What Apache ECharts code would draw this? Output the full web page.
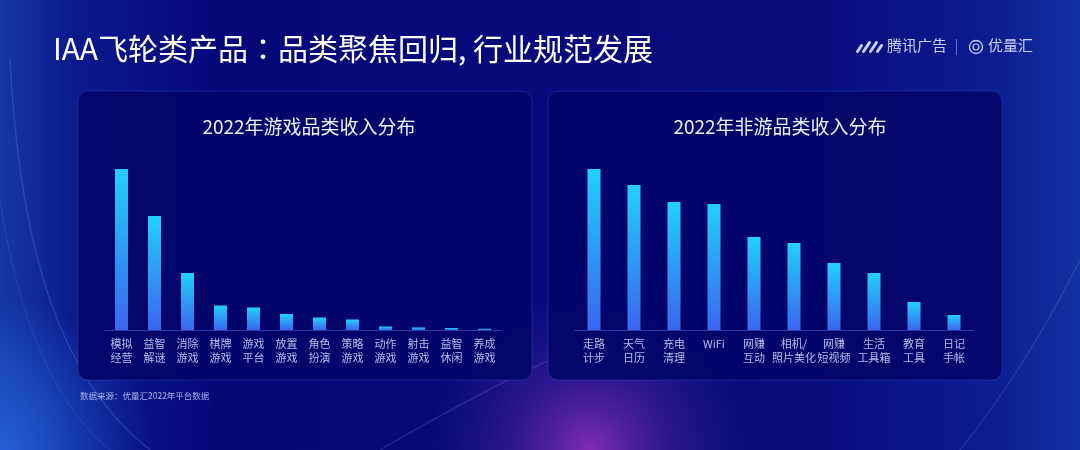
<!DOCTYPE html>
<html>
<head>
<meta charset="utf-8">
<script src="https://cdn.jsdelivr.net/npm/echarts@6/dist/echarts.min.js"></script>
<style>
html, body { margin: 0; padding: 0; background: #07086e; }
#main { width: 1080px; height: 450px; }
</style>
</head>
<body>
<div id="main"></div>
<script>
// 游戏品类 (柱高按图估读)
var gameCats = ['模拟\n经营', '益智\n解谜', '消除\n游戏', '棋牌\n游戏', '游戏\n平台', '放置\n游戏', '角色\n扮演', '策略\n游戏', '动作\n游戏', '射击\n游戏', '益智\n休闲', '养成\n游戏'];
var gameVals = [161, 114, 57, 24.5, 22.5, 16, 12.5, 10.5, 3.5, 2.5, 2, 1.2];

// 非游品类
var appCats = ['走路\n计步', '天气\n日历', '充电\n清理', 'WiFi', '网赚\n互动', '相机/\n照片美化', '网赚\n短视频', '生活\n工具箱', '教育\n工具', '日记\n手帐'];
var appVals = [161, 145, 128, 126, 93, 87, 67, 57, 28, 15];

var mainTitle = 'IAA飞轮类产品：品类聚焦回归, 行业规范发展';
var leftTitle = '2022年游戏品类收入分布';
var rightTitle = '2022年非游品类收入分布';
var sourceText = '数据来源：优量汇2022年平台数据';

var fontCN = '"Noto Sans CJK SC", "Noto Sans", sans-serif';
// 标题里的全角冒号要居中，用TC字形
var fontTitle = '"Noto Sans CJK TC", "Noto Sans CJK SC", sans-serif';

var barColor = new echarts.graphic.LinearGradient(0, 0, 0, 1, [
    { offset: 0, color: '#22d0fb' },
    { offset: 1, color: '#3a66ee' }
]);

function axisX(idx, cats) {
    return {
        type: 'category',
        gridIndex: idx,
        data: cats,
        axisTick: { show: false },
        axisLine: { lineStyle: { color: 'rgba(70,95,200,0.6)', width: 1 } },
        axisLabel: {
            color: '#b4bdec',
            fontSize: 11,
            lineHeight: 14,
            margin: 7,
            interval: 0,
            fontFamily: fontCN
        }
    };
}

function axisY(idx) {
    return {
        type: 'value',
        gridIndex: idx,
        min: 0,
        max: 161,
        show: false,
        splitLine: { show: false }
    };
}

var chart = echarts.init(document.getElementById('main'));

chart.setOption({
    backgroundColor: '#07086e',
    animation: false,
    title: [
        { text: mainTitle, left: 48, top: 29, textStyle: { color: '#ffffff', fontSize: 30, fontWeight: 'normal', fontFamily: fontTitle } },
        { text: leftTitle, left: 304, top: 112, textAlign: 'center', textStyle: { color: '#eef1ff', fontSize: 19, fontWeight: 'normal', fontFamily: fontCN } },
        { text: rightTitle, left: 775, top: 112, textAlign: 'center', textStyle: { color: '#eef1ff', fontSize: 19, fontWeight: 'normal', fontFamily: fontCN } }
    ],
    graphic: [
        // 背景
        { type: 'rect', z: -10, silent: true, shape: { x: 0, y: 0, width: 1080, height: 450 },
          style: { fill: new echarts.graphic.LinearGradient(0, 0, 1, 0, [
              { offset: 0, color: '#1637a6' },
              { offset: 0.07, color: '#0a1a8c' },
              { offset: 0.2, color: '#06087a' },
              { offset: 0.75, color: '#080c7c' },
              { offset: 0.92, color: '#0c1d92' },
              { offset: 1, color: '#1231a2' }
          ]) } },
        { type: 'rect', z: -9, silent: true, shape: { x: 150, y: 180, width: 800, height: 270 },
          style: { fill: new echarts.graphic.RadialGradient(0.55, 1, 0.6, [
              { offset: 0, color: 'rgba(150,50,190,0.85)' },
              { offset: 0.45, color: 'rgba(100,40,175,0.45)' },
              { offset: 1, color: 'rgba(60,30,150,0)' }
          ]) } },
        { type: 'rect', z: -9, silent: true, shape: { x: 0, y: 280, width: 300, height: 170 },
          style: { fill: new echarts.graphic.RadialGradient(0, 1, 0.9, [
              { offset: 0, color: 'rgba(40,110,230,0.75)' },
              { offset: 1, color: 'rgba(40,110,230,0)' }
          ]) } },
        // 光线
        { type: 'bezierCurve', z: -8, silent: true, shape: { x1: 10, y1: 60, x2: 150, y2: 450, cpx1: 20, cpy1: 250, cpx2: 60, cpy2: 380 },
          style: { stroke: 'rgba(140,180,255,0.18)', lineWidth: 1.5, fill: null } },
        { type: 'bezierCurve', z: -8, silent: true, shape: { x1: 0, y1: 200, x2: 110, y2: 450, cpx1: 20, cpy1: 330, cpx2: 60, cpy2: 410 },
          style: { stroke: 'rgba(140,180,255,0.14)', lineWidth: 1, fill: null } },
        { type: 'bezierCurve', z: -8, silent: true, shape: { x1: 380, y1: 450, x2: 720, y2: 300, cpx1: 500, cpy1: 380, cpx2: 620, cpy2: 320 },
          style: { stroke: 'rgba(200,170,255,0.15)', lineWidth: 1.5, fill: null } },
        { type: 'bezierCurve', z: -8, silent: true, shape: { x1: 1080, y1: 260, x2: 960, y2: 450, cpx1: 1040, cpy1: 340, cpx2: 1000, cpy2: 400 },
          style: { stroke: 'rgba(140,180,255,0.16)', lineWidth: 1.5, fill: null } },
        // 面板
        { type: 'rect', z: -5, silent: true, shape: { x: 78, y: 91, width: 454, height: 289, r: 10 },
          style: { fill: 'rgba(4,5,104,0.93)', stroke: 'rgba(70,100,210,0.3)', lineWidth: 1 } },
        { type: 'rect', z: -5, silent: true, shape: { x: 548, y: 91, width: 454, height: 289, r: 10 },
          style: { fill: 'rgba(4,5,104,0.93)', stroke: 'rgba(70,100,210,0.3)', lineWidth: 1 } },
        // 数据来源
        { type: 'text', z: 5, left: 80, top: 392, style: { text: sourceText, fill: '#a9b3e8', fontSize: 8.5, fontFamily: fontCN } },
        // logo
        { type: 'group', left: 855, top: 40, z: 5, children: [
            { type: 'line', shape: { x1: 0, y1: 12, x2: 4, y2: 6 }, style: { stroke: '#c9cfee', lineWidth: 3, lineCap: 'round' } },
            { type: 'line', shape: { x1: 6, y1: 12, x2: 12, y2: 3 }, style: { stroke: '#c9cfee', lineWidth: 3, lineCap: 'round' } },
            { type: 'line', shape: { x1: 13, y1: 12, x2: 19, y2: 3 }, style: { stroke: '#c9cfee', lineWidth: 3, lineCap: 'round' } },
            { type: 'line', shape: { x1: 20, y1: 12, x2: 24, y2: 6 }, style: { stroke: '#c9cfee', lineWidth: 3, lineCap: 'round' } }
        ] },
        { type: 'text', z: 5, left: 887, top: 38, style: { text: '腾讯广告', fill: '#c9cfee', fontSize: 15, fontFamily: fontCN } },
        { type: 'rect', z: 5, shape: { x: 956, y: 39, width: 1, height: 16 }, style: { fill: 'rgba(200,207,238,0.5)' } },
        { type: 'circle', z: 5, shape: { cx: 976, cy: 47, r: 6.5 }, style: { fill: null, stroke: '#c9cfee', lineWidth: 1.3 } },
        { type: 'circle', z: 5, shape: { cx: 976, cy: 47, r: 3 }, style: { fill: null, stroke: '#c9cfee', lineWidth: 1.2 } },
        { type: 'text', z: 5, left: 988, top: 38, style: { text: '优量汇', fill: '#c9cfee', fontSize: 15, fontFamily: fontCN } }
    ],
    grid: [
        { left: 105, top: 169, width: 396, height: 161 },
        { left: 574, top: 169, width: 400, height: 161 }
    ],
    xAxis: [axisX(0, gameCats), axisX(1, appCats)],
    yAxis: [axisY(0), axisY(1)],
    series: [
        { type: 'bar', xAxisIndex: 0, yAxisIndex: 0, data: gameVals, barWidth: 13, itemStyle: { color: barColor } },
        { type: 'bar', xAxisIndex: 1, yAxisIndex: 1, data: appVals, barWidth: 13, itemStyle: { color: barColor } }
    ]
});
</script>
</body>
</html>
